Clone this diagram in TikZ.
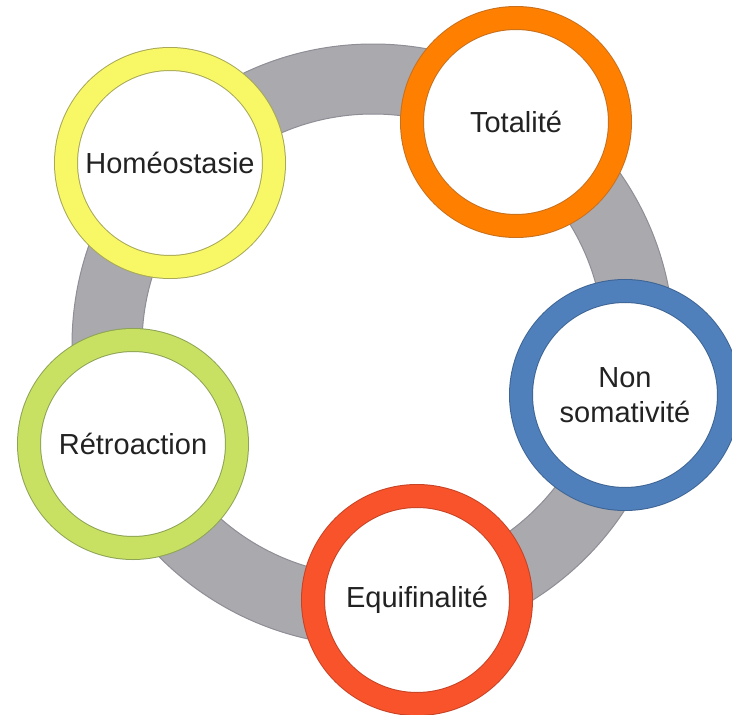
\documentclass[tikz,border=0pt]{standalone}
\usepackage{fontspec}
\setmainfont{Liberation Sans}
\definecolor{ringgray}{HTML}{A9A9AE}
\definecolor{ringedge}{HTML}{8E8E96}
\definecolor{cyel}{HTML}{F8F866}
\definecolor{cyeledge}{HTML}{A8A858}
\definecolor{corange}{HTML}{FF8000}
\definecolor{corangeedge}{HTML}{C8701E}
\definecolor{cblue}{HTML}{5080BB}
\definecolor{cblueedge}{HTML}{3E6595}
\definecolor{cred}{HTML}{F9532B}
\definecolor{crededge}{HTML}{C64326}
\definecolor{cgreen}{HTML}{C9E163}
\definecolor{cgreenedge}{HTML}{8EA455}
\definecolor{txt}{HTML}{222222}
\tikzset{
  bubble/.style n args={2}{circle, fill=white, draw=#2, line width=1pt,
    double=#1, double distance=22pt, minimum size=208pt, inner sep=0pt,
    align=center, text=txt, font=\fontsize{29}{35}\selectfont},
}
\begin{document}
\begin{tikzpicture}[x=1pt,y=-1pt]
\useasboundingbox (0,0) rectangle (732,715);
\coordinate (c) at (373,345);
\fill[ringgray, even odd rule] (c) circle (301) (c) circle (231);
\draw[ringedge, line width=1pt] (c) circle (301) (c) circle (231);
\node[bubble={cyel}{cyeledge}] (homeo) at (170,163) {Homéostasie};
\node[bubble={corange}{corangeedge}] (total) at (516,122) {Totalité};
\node[bubble={cblue}{cblueedge}] (nonsom) at (625,395) {Non\\somativité};
\node[bubble={cred}{crededge}] (equi) at (417,600) {Equifinalité};
\node[bubble={cgreen}{cgreenedge}] (retro) at (133,444) {Rétroaction};
\end{tikzpicture}
\end{document}
